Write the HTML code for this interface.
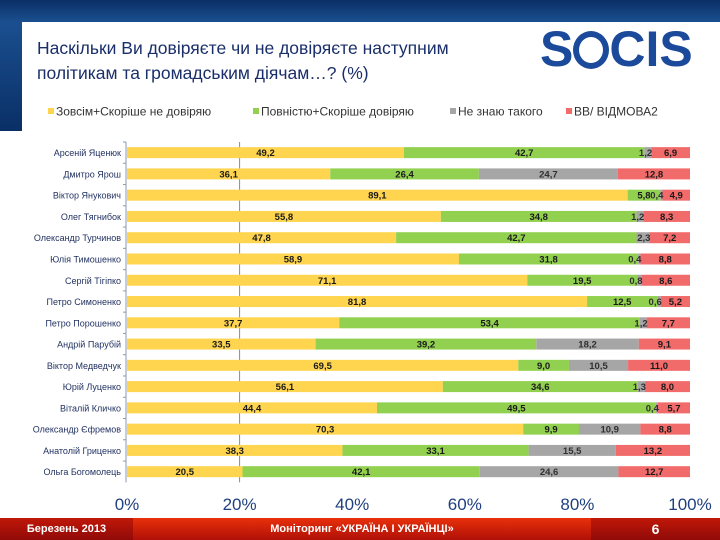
<!DOCTYPE html>
<html><head><meta charset="utf-8">
<style>
body{margin:0;width:720px;height:540px;overflow:hidden;background:#fff;font-family:"Liberation Sans","DejaVu Sans",sans-serif;position:relative}
.abs{position:absolute}
</style></head>
<body>
<div class="abs" style="left:0;top:0;width:720px;height:22px;background:linear-gradient(#0a2f66,#1a4f8f)"></div>
<div class="abs" style="left:0;top:22px;width:22px;height:109px;background:linear-gradient(#1a4f8f,#0a2f66)"></div>
<div class="abs" style="left:37px;top:36px;font-size:17.5px;line-height:25px;color:#1a2f6a">Наскільки Ви довіряєте чи не довіряєте наступним<br>політикам та громадським діячам…? (%)</div>
<div class="abs" style="left:540px;top:20px;font-size:50px;font-weight:bold;color:#1b4a9a;letter-spacing:0px">S<span style="display:inline-block;width:36px;height:38px;border-radius:50%;border:6px solid #1b4a9a;box-sizing:border-box;vertical-align:-3px"></span>CIS</div>
<svg class="abs" style="left:0;top:0" width="720" height="540" id="chart"></svg>
<div class="abs" style="left:0;top:518px;width:720px;height:22px;background:linear-gradient(#e8300a,#b01008);color:#fff;font-weight:bold;font-size:11px">
<div class="abs" style="left:0;top:0;width:133px;line-height:22px;text-align:center;background:linear-gradient(#c01808,#900a08)">Березень 2013</div>
<div class="abs" style="left:134px;top:0;width:456px;line-height:22px;text-align:center">Моніторинг «УКРАЇНА І УКРАЇНЦІ»</div>
<div class="abs" style="left:591px;top:0;width:129px;line-height:22px;text-align:center;font-size:14px;background:linear-gradient(#c01808,#900a08)">6</div>
</div>
<script>
const names=["Арсеній Яценюк","Дмитро Ярош","Віктор Янукович","Олег Тягнибок","Олександр Турчинов","Юлія Тимошенко","Сергій Тігіпко","Петро Симоненко","Петро Порошенко","Андрій Парубій","Віктор Медведчук","Юрій Луценко","Віталій Кличко","Олександр Єфремов","Анатолій Гриценко","Ольга Богомолець"];
const distrust=[49.2,36.1,89.1,55.8,47.8,58.9,71.1,81.8,37.7,33.5,69.5,56.1,44.4,70.3,38.3,20.5];
const trust=[42.7,26.4,5.8,34.8,42.7,31.8,19.5,12.5,53.4,39.2,9.0,34.6,49.5,9.9,33.1,42.1];
const unknown=[1.2,24.7,0.4,1.2,2.3,0.4,0.8,0.6,1.2,18.2,10.5,1.3,0.4,10.9,15.5,24.6];
const refuse=[6.9,12.8,4.9,8.3,7.2,8.8,8.6,5.2,7.7,9.1,11.0,8.0,5.7,8.8,13.2,12.7];
const ticks=[0,20,40,60,80,100];
const seriesNames=["Зовсім+Скоріше не довіряю","Повністю+Скоріше довіряю","Не знаю такого","ВВ/ ВІДМОВА2"];
const colors=["#ffd54f","#92d050","#a6a6a6","#f26b6b"];
const NS="http://www.w3.org/2000/svg";
const svg=document.getElementById('chart');
const x0=127,x1=690,yTop=142,rowH=21.27,barH=11;
const xs=p=>x0+(x1-x0)*p/100;
const yc=i=>yTop+rowH*i+rowH/2;
function mk(t,a,p){const e=document.createElementNS(NS,t);for(const k in a)e.setAttribute(k,a[k]);(p||svg).appendChild(e);return e;}
const g=mk('line',{x1:xs(20),x2:xs(20),y1:yTop,y2:yTop+rowH*16,stroke:'#8a8a8a','stroke-width':1});


const ax=mk('line',{x1:x0-1,x2:x0-1,y1:yTop,y2:yTop+rowH*16,stroke:'#8a9ab0','stroke-width':1});


const series=[distrust,trust,unknown,refuse];
names.forEach((n,i)=>{
  const lb=mk('text',{x:121,y:yc(i)+3.5,'text-anchor':'end','font-size':9,fill:'#1f2f5f'});
  lb.textContent=n;
  
  
  const tk=mk('line',{x1:x0-4,x2:x0-1,y1:yTop+rowH*i,y2:yTop+rowH*i,stroke:'#8a9ab0'});
  
  
  const tot=series.reduce((s,a)=>s+a[i],0);
  let acc=0;
  const labels=[];
  series.forEach((a,k)=>{
    const v=a[i];const p0=acc/tot*100;acc+=v;const p1=acc/tot*100;
    const r=mk('rect',{x:xs(p0),y:yc(i)-barH/2,width:xs(p1)-xs(p0),height:barH,fill:colors[k]});
    
    
    labels.push([v,p0,p1,k]);
  });
  labels.forEach(([v,p0,p1,k])=>{
    const small=v<3;
    const t=mk('text',{x:small?xs(p1)+1:(xs(p0)+xs(p1))/2,y:yc(i)+3.5,'text-anchor':small?'end':'middle','font-size':9.5,'font-weight':'bold',fill:k==2?'#303030':'#1a1a1a'});
    t.textContent=v.toFixed(1).replace('.',',');
    
    
  });
});
ticks.forEach(t=>{
  const e=mk('text',{x:xs(t),y:510,'text-anchor':'middle','font-size':17,fill:'#1f3f7f'});
  e.textContent=t+'%';
  
  
});
const legendX=[48,253,450,566];
seriesNames.forEach((s,k)=>{
  const lx=legendX[k];
  const r=mk('rect',{x:lx,y:108,width:6,height:6,fill:colors[k]});
  
  
  const t=mk('text',{x:lx+8,y:115.5,'font-size':12,fill:'#333'});
  t.textContent=s;
  
  
});
</script>
</body></html>
